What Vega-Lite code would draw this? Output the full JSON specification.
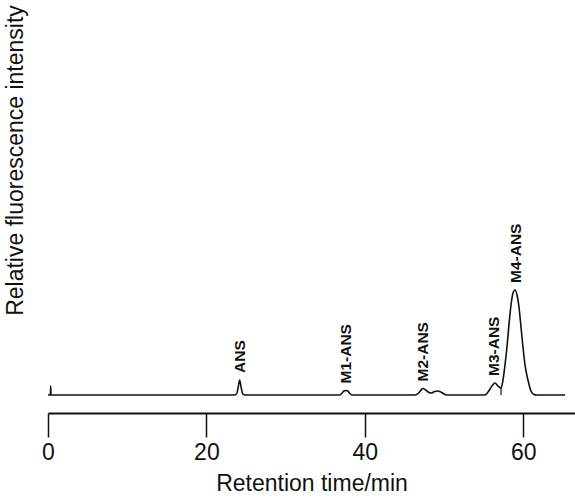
{
  "$schema": "https://vega.github.io/schema/vega-lite/v6.json",
  "width": 527,
  "height": 395,
  "autosize": {"type": "none"},
  "padding": {"left": 48, "top": 0, "right": 0, "bottom": 103},
  "background": "white",
  "config": {"view": {"stroke": null}, "font": "Liberation Sans"},
  "datasets": {
    "trace": [
      {"t": 0, "v": 0}, {"t": 0.3, "v": 0}, {"t": 0.34, "v": 9}, {"t": 0.38, "v": 0},
      {"t": 10, "v": 0}, {"t": 20, "v": 0}, {"t": 23.5, "v": 0}, {"t": 23.8, "v": 1},
      {"t": 24.0, "v": 7}, {"t": 24.2, "v": 15}, {"t": 24.4, "v": 7}, {"t": 24.6, "v": 1},
      {"t": 24.9, "v": 0}, {"t": 30, "v": 0}, {"t": 36.8, "v": 0}, {"t": 37.1, "v": 1.5},
      {"t": 37.35, "v": 4}, {"t": 37.6, "v": 4.5}, {"t": 37.85, "v": 4}, {"t": 38.1, "v": 1.5},
      {"t": 38.4, "v": 0}, {"t": 46.3, "v": 0}, {"t": 46.8, "v": 2}, {"t": 47.1, "v": 5},
      {"t": 47.35, "v": 6.5}, {"t": 47.7, "v": 5}, {"t": 48.1, "v": 2.5}, {"t": 48.4, "v": 2},
      {"t": 48.8, "v": 3.5}, {"t": 49.2, "v": 4}, {"t": 49.6, "v": 3}, {"t": 50.0, "v": 1},
      {"t": 50.4, "v": 0}, {"t": 55.18, "v": 0}, {"t": 55.56, "v": 3}, {"t": 56.06, "v": 9},
      {"t": 56.44, "v": 12}, {"t": 56.82, "v": 9}, {"t": 57.2, "v": 7}, {"t": 57.45, "v": 15},
      {"t": 57.7, "v": 30}, {"t": 57.95, "v": 48}, {"t": 58.2, "v": 70}, {"t": 58.46, "v": 90},
      {"t": 58.71, "v": 102}, {"t": 58.96, "v": 105}, {"t": 59.22, "v": 100}, {"t": 59.47, "v": 88},
      {"t": 59.72, "v": 68}, {"t": 59.97, "v": 48}, {"t": 60.23, "v": 30}, {"t": 60.6, "v": 15},
      {"t": 60.98, "v": 4}, {"t": 61.36, "v": 0.5}, {"t": 61.7, "v": 0}, {"t": 65.3, "v": 0}
    ],
    "peaks": [
      {"name": "ANS", "t": 24.2, "h": 15},
      {"name": "M1-ANS", "t": 37.6, "h": 4.5},
      {"name": "M2-ANS", "t": 47.35, "h": 6.5},
      {"name": "M3-ANS", "t": 56.3, "h": 12},
      {"name": "M4-ANS", "t": 59.1, "h": 105}
    ],
    "drops": [
      {"t": 57.2, "lo": 0, "hi": 7}
    ]
  },
  "layer": [
    {
      "data": {"name": "trace"},
      "mark": {"type": "line", "interpolate": "monotone", "stroke": "#111111", "strokeWidth": 1.6},
      "encoding": {
        "x": {
          "field": "t", "type": "quantitative",
          "scale": {"domain": [0, 66.54], "nice": false, "zero": false},
          "axis": {
            "values": [0, 20, 40, 60], "offset": 18, "tickSize": 24, "tickWidth": 1.5,
            "domainWidth": 1.8, "domainColor": "#111111", "tickColor": "#111111",
            "labelFontSize": 23, "labelColor": "#111111", "labelPadding": 4, "labelFlush": false,
            "grid": false, "title": "Retention time/min", "titleFontSize": 23,
            "titleFontWeight": "normal", "titleColor": "#111111", "titlePadding": 8
          }
        },
        "y": {
          "field": "v", "type": "quantitative",
          "scale": {"domain": [0, 395], "nice": false},
          "axis": {
            "domain": false, "ticks": false, "labels": false, "grid": false,
            "title": "Relative fluorescence intensity", "titleFontSize": 23,
            "titleFontWeight": "normal", "titleColor": "#111111",
            "titleX": -33, "titleY": 160, "titleAngle": 270,
            "titleAlign": "center", "titleBaseline": "middle"
          }
        }
      }
    },
    {
      "data": {"name": "drops"},
      "mark": {"type": "rule", "stroke": "#111111", "strokeWidth": 1.2},
      "encoding": {
        "x": {"field": "t", "type": "quantitative"},
        "y": {"field": "lo", "type": "quantitative"},
        "y2": {"field": "hi"}
      }
    },
    {
      "data": {"name": "peaks"},
      "mark": {"type": "text", "angle": 270, "align": "left", "baseline": "middle", "dx": 7, "fontSize": 15.5, "fontWeight": "bold", "color": "#111111"},
      "encoding": {
        "x": {"field": "t", "type": "quantitative"},
        "y": {"field": "h", "type": "quantitative"},
        "text": {"field": "name"}
      }
    }
  ]
}
